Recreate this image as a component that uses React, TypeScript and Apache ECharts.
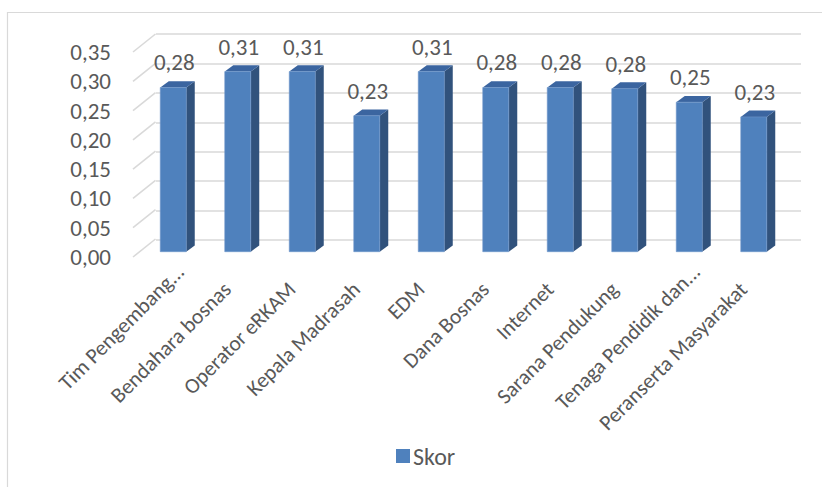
import React, { useEffect, useRef } from "react";
import * as echarts from "echarts";

const categories = [
  "Tim Pengembang...",
  "Bendahara bosnas",
  "Operator eRKAM",
  "Kepala Madrasah",
  "EDM",
  "Dana Bosnas",
  "Internet",
  "Sarana Pendukung",
  "Tenaga Pendidik dan...",
  "Peranserta Masyarakat",
];
const skor = [0.279, 0.306, 0.306, 0.231, 0.306, 0.279, 0.279, 0.277, 0.254, 0.229];
const yTicks = [0, 0.05, 0.1, 0.15, 0.2, 0.25, 0.3, 0.35];
const seriesName = "Skor";

const FONT = "Carlito, Lato, 'Liberation Sans', sans-serif";
const TXT = "#595959";
const GRIDC = "#d9d9d9";
const FRONT = "#4f81bd";
const SIDE = "#31527c";
const TOP = "#3b65a0";

const fmt = (v: number) => v.toFixed(2).replace(".", ",");

export default function App() {
  const ref = useRef<HTMLDivElement>(null);
  useEffect(() => {
    if (!ref.current) return;
    const chart = echarts.init(ref.current, undefined, { renderer: "svg" });
    const DX = 22.5;
    const DY = -18;
    const BW = 26;
    const BDX = 8.5;
    const BDY = -6.3;
    const labelTok = { fontSize: 21.5, color: TXT, fontFamily: FONT };
    chart.setOption({
      animation: false,
      backgroundColor: "#fff",
      textStyle: { fontFamily: FONT },
      graphic: [
        {
          type: "rect",
          shape: { x: 7.5, y: 12.5, width: 900, height: 600 },
          style: { fill: "none", stroke: GRIDC, lineWidth: 1.2 },
          silent: true,
          z: -10,
        },
      ],
      legend: {
        data: [{ name: seriesName, icon: "rect" }],
        left: 391,
        top: 439,
        itemWidth: 14,
        itemHeight: 14,
        itemGap: 4,
        textStyle: { color: TXT, fontSize: 24, fontFamily: FONT, padding: [0, 0, 0, -2] },
      },
      grid: [
        { left: 133, width: 1, top: 52, height: 205 },
        { left: 156, right: 21, top: 34, height: 206 },
        { left: 141, right: 36, top: 45.7, height: 206 },
        { left: 148.5, right: 28.5, top: 45.7, height: 206 },
      ],
      xAxis: [
        { gridIndex: 0, type: "value", min: 0, max: 1, show: false },
        { gridIndex: 1, type: "value", min: 0, max: 1, show: false },
        { gridIndex: 2, type: "category", data: categories, show: false },
        {
          gridIndex: 3,
          type: "category",
          data: categories,
          axisLine: { show: false },
          axisTick: { show: false },
          axisLabel: {
            interval: 0,
            rotate: 45,
            margin: 16.5,
            color: TXT,
            fontSize: 21.5,
            fontFamily: FONT,
            formatter: (v: string) =>
              v.endsWith("...") ? "{a|" + v + "}" : "{b|" + v + "}",
            rich: {
              a: { ...labelTok },
              b: { ...labelTok, padding: [0, 25, 0, 0] },
            },
          },
        },
      ],
      yAxis: [
        {
          gridIndex: 0,
          type: "value",
          min: 0,
          max: 0.35,
          interval: 0.05,
          axisLine: { show: false },
          axisTick: { show: false },
          splitLine: { show: false },
          axisLabel: {
            margin: 22,
            color: TXT,
            fontSize: 23,
            fontFamily: FONT,
            formatter: (v: number) => fmt(v),
          },
        },
        {
          gridIndex: 1,
          type: "value",
          min: 0,
          max: 0.35,
          interval: 0.05,
          axisLine: { show: false },
          axisTick: { show: false },
          axisLabel: { show: false },
          splitLine: { show: true, lineStyle: { color: GRIDC, width: 1.6 } },
        },
        { gridIndex: 2, type: "value", min: 0, max: 0.35, show: false },
        { gridIndex: 3, type: "value", min: 0, max: 0.35, show: false },
      ],
      series: [
        {
          type: "custom",
          xAxisIndex: 0,
          yAxisIndex: 0,
          silent: true,
          data: yTicks.map((v) => [0, v]),
          renderItem: (params: any, api: any) => {
            const p = api.coord([0, api.value(1)]);
            return {
              type: "line",
              shape: { x1: p[0], y1: p[1], x2: p[0] + DX, y2: p[1] + DY },
              style: { stroke: GRIDC, lineWidth: 1.6 },
            };
          },
        },
        {
          name: seriesName,
          type: "custom",
          xAxisIndex: 2,
          yAxisIndex: 2,
          itemStyle: { color: FRONT },
          data: skor.map((v, i) => [i, v]),
          renderItem: (params: any, api: any) => {
            const i = api.value(0);
            const v = api.value(1);
            const b = api.coord([i, 0]);
            const t = api.coord([i, v]);
            const xl = b[0] - BW / 2;
            const xr = b[0] + BW / 2;
            return {
              type: "group",
              children: [
                {
                  type: "polygon",
                  shape: {
                    points: [
                      [xr, t[1]],
                      [xr + BDX, t[1] + BDY],
                      [xr + BDX, b[1] + BDY],
                      [xr, b[1]],
                    ],
                  },
                  style: { fill: SIDE },
                },
                {
                  type: "polygon",
                  shape: {
                    points: [
                      [xl, t[1]],
                      [xl + BDX, t[1] + BDY],
                      [xr + BDX, t[1] + BDY],
                      [xr, t[1]],
                    ],
                  },
                  style: { fill: TOP },
                },
                {
                  type: "rect",
                  shape: { x: xl, y: t[1], width: BW, height: b[1] - t[1] },
                  style: { fill: FRONT, stroke: "#6f97cb", lineWidth: 0.6 },
                },
                {
                  type: "text",
                  x: b[0] + 1,
                  y: t[1] - 25,
                  style: {
                    text: fmt(v),
                    fill: TXT,
                    fontSize: 23,
                    fontFamily: FONT,
                    align: "center",
                    verticalAlign: "middle",
                  },
                },
              ],
            };
          },
        },
      ],
    });
    return () => chart.dispose();
  }, []);
  return (
    <div
      ref={ref}
      style={{ position: "fixed", left: 0, top: 0, width: 822, height: 487 }}
    />
  );
}
